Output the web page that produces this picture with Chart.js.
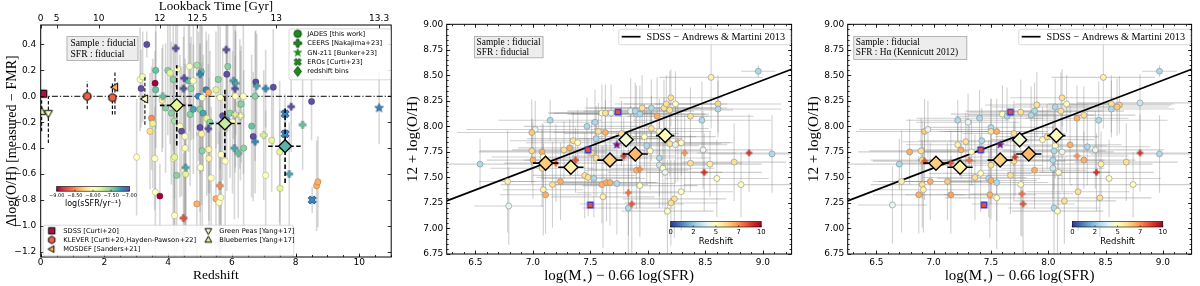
<!DOCTYPE html>
<html><head><meta charset="utf-8">
<script src="https://cdn.jsdelivr.net/npm/chart.js@4.4.1/dist/chart.umd.min.js"></script>
<style>
html,body{margin:0;padding:0;background:#fff;width:1200px;height:286px;overflow:hidden}
canvas{position:absolute;top:0}
</style></head><body>
<canvas id="c1" width="400" height="286" style="left:0;width:400px;height:286px"></canvas>
<canvas id="c2" width="400" height="286" style="left:400px;width:400px;height:286px"></canvas>
<canvas id="c3" width="400" height="286" style="left:800px;width:400px;height:286px"></canvas>
<script>
// ================= PANEL 1 DATA: Δlog(O/H) vs redshift =================
const jadesZ   = [3.33,3.12,3.20,3.15,3.61,3.59,3.61,3.48,3.52,3.43, 3.01,3.58,3.60,3.74,3.99,4.06,4.16,4.29,4.67,4.90, 5.04,4.64,4.79,4.72,5.19,4.95,5.07,5.27,3.81,3.92, 4.10,4.20,4.37,4.42,4.53,4.69,4.79,5.00,5.10,5.21, 5.31,5.00,5.05,5.50,5.57,5.63,5.71,5.84,5.94,6.02, 6.11,6.36,6.25,5.87,5.84,6.29,6.62,6.67,6.75,7.30, 7.25,8.50,6.73,4.16,4.20,4.20,4.50,4.55,4.90,5.01, 5.07,5.28,5.28,5.35,5.50,5.60,5.65,5.66,5.79,6.37, 7.06,7.51,7.50,8.66,8.70,4.27,4.53];
const jadesDOH = [0.40,0.13,0.15,0.06,0.20,0.10,0.05,-0.17,-0.21,-0.27, -0.47,-0.48,-0.74,-0.77,0.20,0.18,0.13,0.21,0.23,0.24, 0.19,0.12,0.12,0.06,0.05,0.00,-0.01,0.03,-0.03,-0.09, -0.13,-0.19,-0.23,-0.27,-0.31,-0.14,-0.10,-0.10,-0.13,-0.17, -0.20,-0.24,-0.29,0.05,0.13,-0.01,-0.15,-0.18,-0.13,-0.20, 0.00,0.00,-0.06,0.23,0.17,-0.06,-0.23,-0.31,0.11,0.07, -0.34,-0.04,0.00,-0.48,-0.47,-0.92,-0.57,-0.60,-0.83,-0.55, -0.42,-0.41,-0.48,-0.63,-0.79,-0.82,-0.78,-0.45,-0.50,-0.40, -0.61,-0.71,-0.43,-0.69,-0.66,-0.61,-0.40];
const jadesErr = [0.10,0.40,0.35,0.30,0.45,0.25,0.45,0.40,0.50,0.45, 0.45,0.40,0.55,0.25,0.50,0.55,0.55,0.45,0.50,0.55, 0.45,0.55,0.45,0.40,0.45,0.50,0.55,0.45,0.40,0.50, 0.55,0.60,0.55,0.50,0.60,0.55,0.50,0.50,0.45,0.60, 0.55,0.65,0.55,0.45,0.50,0.55,0.50,0.55,0.50,0.55, 0.55,0.60,0.50,0.50,0.45,0.45,0.55,0.50,0.40,0.45, 0.40,0.30,0.50,0.65,0.60,0.60,0.65,0.60,0.55,0.60, 0.60,0.55,0.55,0.55,0.60,0.55,0.55,0.60,0.55,0.60, 0.50,0.60,0.55,0.35,0.35,0.60,0.65];
const jadesSSFR= [-7.0,-8.0,-7.9,-7.0,-7.4,-9.0,-7.4,-8.5,-7.8,-8.2, -8.0,-8.0,-8.0,-9.0,-7.5,-7.8,-7.5,-8.0,-8.0,-7.6, -7.4,-7.4,-8.0,-7.5,-7.2,-7.2,-8.0,-8.4,-8.1,-7.5, -7.5,-7.6,-8.0,-7.0,-8.0,-7.5,-7.3,-7.5,-7.3,-7.8, -7.5,-7.0,-8.1,-7.8,-7.5,-8.0,-7.0,-7.3,-7.5,-8.0, -8.0,-8.0,-7.8,-7.5,-7.0,-7.5,-7.4,-7.0,-7.0,-7.0, -7.8,-7.0,-7.5,-8.0,-7.8,-8.0,-8.0,-7.8,-8.4,-8.0, -7.5,-8.1,-8.1,-8.0,-8.4,-8.0,-8.0,-8.0,-8.0,-7.5, -8.0,-7.8,-7.8,-8.4,-8.4,-7.5,-8.0];

const ceersZ   = [4.24,4.50,4.48,5.00,3.83,5.26,5.82,6.10,6.05,6.12,6.27,6.78,7.06,7.00,7.86,8.22,4.48,4.55,5.62,6.08,6.20,7.80,6.73,6.10];
const ceersDOH = [0.37,0.14,0.06,0.17,0.00,-0.25,0.36,0.06,0.12,0.10,-0.15,0.08,0.06,-0.30,-0.08,-0.22,-0.94,-0.55,-0.69,-0.40,-0.44,-0.60,-0.35,-0.14];
const ceersErr = [0.30,0.40,0.40,0.40,0.40,0.50,0.40,0.45,0.45,0.40,0.50,0.40,0.30,0.50,0.35,0.35,0.50,0.50,0.50,0.55,0.50,0.40,0.40,0.45];
const ceersSSFR= [-7.0,-7.0,-7.0,-7.2,-7.4,-7.0,-7.0,-7.0,-7.3,-7.3,-8.0,-7.3,-7.2,-7.8,-7.0,-7.4,-8.7,-7.3,-8.5,-7.3,-7.4,-7.3,-7.2,-7.8];

const gnz11Z = [10.62], gnz11DOH = [-0.09], gnz11Err = [0.28], gnz11SSFR = [-7.2];
const erosZ = [7.67,7.67,8.52], erosDOH = [-0.135,-0.29,-0.80], erosErr = [0.15,0.15,0.10], erosSSFR = [-7.2,-7.2,-7.2];

const binZ = [4.27,5.78,7.67], binDOH = [-0.07,-0.21,-0.385];
const binZLo = [3.74,5.29,7.14], binZHi = [4.79,6.28,8.21];
const binDLo = [-0.38,-0.47,-0.67], binDHi = [0.24,0.07,-0.085];
const binSSFR = [-7.8,-7.7,-7.35];

const sdssZ = [0.08], sdssDOH = [0.02], sdssELo = [0.03], sdssEHi = [0.03], sdssSSFR = [-8.95];
const kleverZ = [1.46,2.25], kleverDOH = [0.00,-0.01], kleverELo = [0.10,0.13], kleverEHi = [0.115,0.11], kleverSSFR = [-8.65,-8.65];
const mosdefZ = [2.33,3.27], mosdefDOH = [0.07,-0.02], mosdefELo = [0.21,0.20], mosdefEHi = [0.12,0.17], mosdefSSFR = [-8.4,-8.0];
const gpZ = [0.24], gpDOH = [-0.13], gpELo = [0.23], gpEHi = [0.13], gpSSFR = [-8.0];
const bbZ = [0.03], bbDOH = [-0.12], bbELo = [0.15], bbEHi = [0.10], bbSSFR = [-7.8];

const zeroLineZ = [0, 11], zeroLineDOH = [0, 0];

const L_xTicks = [0,2,4,6,8,10];
const L_yTicks = [-1.2,-1.0,-0.8,-0.6,-0.4,-0.2,0.0,0.2,0.4];
const LB_LABELS = ['0','5','10','12','12.5','13','13.3'];
const LB_Z = [0,0.5,1.82,3.74,4.92,7.39,10.62];
const cbSSFRTicks = [-9,-8.5,-8,-7.5,-7];
const cbSSFRLabels = ['\u22129.00','\u22128.50','\u22128.00','\u22127.50','\u22127.00'];

// ================= PANEL 2 DATA: FMR, fiducial SFR =================
const mJadesX = [7.15,7.02,6.99,6.78,6.79,6.54,6.99,7.00,7.08,7.09, 7.08,7.09,7.11,7.17,7.24,7.27,7.32,7.35,7.39,7.47, 7.54,7.57,7.63,7.55,7.51,7.55,7.45,7.48,7.53,7.60, 7.64,7.67,7.61,7.73,7.68,7.60,7.63,7.90,7.85,7.89, 7.95,7.93,8.03,8.08,8.14,8.16,8.20,8.24,8.19,8.37, 8.47,8.55,8.61,8.61,8.96,8.48,8.54,8.75,8.81,9.08, 8.60,8.37,8.26,8.23,8.20,8.17,8.29,7.99,8.02,8.10, 8.10,8.13,8.15,8.19,8.24,8.29,7.93,7.90,7.83,7.97, 7.77,7.85,8.03,8.10,8.14];
const mJadesY = [8.06,7.97,7.94,7.46,7.22,7.63,7.76,7.67,7.75,7.70, 7.59,7.38,7.33,7.43,7.46,7.77,7.79,7.86,7.84,8.00, 8.04,7.95,7.94,7.88,7.74,7.69,7.52,7.50,7.49,7.43, 7.45,7.45,7.31,7.44,8.13,8.13,8.13,8.12,8.15,8.15, 8.18,8.12,8.18,8.10,8.18,8.22,8.28,8.22,8.16,8.10, 8.06,8.48,8.22,8.17,8.54,7.77,7.63,7.65,7.43,7.73, 7.49,7.64,7.84,7.29,7.25,7.17,7.36,7.81,7.76,7.69, 7.62,7.59,7.55,7.83,7.82,7.84,7.42,7.57,7.20,7.90, 7.93,7.88,7.98,7.95,7.90];
const mJadesXe = [0.45,0.60,0.65,0.25,0.30,0.45,0.45,0.40,0.55,0.45, 0.45,0.35,0.40,0.45,0.50,0.45,0.45,0.55,0.45,0.55, 0.45,0.55,0.45,0.60,0.50,0.45,0.45,0.45,0.45,0.40, 0.45,0.40,0.45,0.50,0.55,0.45,0.45,0.60,0.55,0.45, 0.50,0.60,0.55,0.45,0.55,0.45,0.45,0.45,0.55,0.55, 0.60,0.45,0.55,0.55,0.15,0.60,0.45,0.45,0.50,0.55, 0.45,0.45,0.45,0.45,0.40,0.40,0.45,0.45,0.50,0.45, 0.45,0.45,0.50,0.45,0.45,0.45,0.50,0.45,0.40,0.45, 0.50,0.45,0.50,0.45,0.45];
const mJadesYe = [0.20,0.28,0.32,0.50,0.38,0.25,0.32,0.38,0.28,0.32, 0.38,0.45,0.38,0.42,0.38,0.28,0.28,0.28,0.32,0.28, 0.32,0.28,0.32,0.32,0.32,0.38,0.42,0.38,0.38,0.38, 0.38,0.42,0.50,0.50,0.28,0.28,0.28,0.28,0.32,0.28, 0.32,0.28,0.28,0.38,0.28,0.28,0.28,0.32,0.38,0.28, 0.38,0.50,0.28,0.28,0.06,0.38,0.32,0.38,0.32,0.38, 0.38,0.28,0.38,0.38,0.42,0.50,0.38,0.38,0.38,0.38, 0.42,0.38,0.42,0.32,0.38,0.32,0.50,0.38,0.60,0.32, 0.32,0.32,0.32,0.32,0.38];
const mJadesZ = [3.0,4.2,6.5,5.5,4.2,3.0,6.2,7.0,7.0,5.0, 6.0,5.5,7.0,6.0,7.0,6.0,7.0,6.0,5.0,3.0, 3.0,6.0,7.0,3.0,6.0,6.0,6.0,6.0,3.0,7.0, 7.0,7.0,5.5,3.0,4.2,5.0,6.0,3.0,4.2,3.0, 6.0,3.0,3.0,7.0,6.0,6.0,6.0,5.0,6.0,6.0, 3.0,5.5,6.2,3.0,3.0,4.2,5.5,6.0,5.0,3.0, 5.0,6.0,7.0,6.0,6.0,5.0,5.0,3.0,5.0,3.0, 3.5,5.0,4.2,6.0,4.2,5.0,5.0,7.0,3.0,5.0, 6.0,5.0,6.0,5.0,7.0];
const mCeersX = [7.20,7.37,8.49,8.88,8.32,7.79,7.83,7.86,7.93];
const mCeersY = [7.64,7.67,7.55,7.74,7.74,7.71,7.35,7.24,7.58];
const mCeersXe = [0.45,0.45,0.50,0.45,0.45,0.45,0.45,0.45,0.45];
const mCeersYe = [0.38,0.32,0.38,0.38,0.38,0.38,0.42,0.50,0.38];
const mCeersZ = [8.5,8.5,9.0,9.0,7.5,9.0,8.0,8.5,7.5];
const mErosX = [7.48,7.50,7.74], mErosY = [7.77,7.23,8.14], mErosZ = [8.5,8.5,8.5];
const mGnX = [7.73], mGnY = [7.82], mGnZ = [10.6];
const mBinX = [7.11,7.33,7.67,7.89,7.81,8.15], mBinY = [7.64,7.60,7.67,7.73,7.87,7.91];
const mBinXe = [0.11,0.11,0.11,0.11,0.06,0.08], mBinYe = [0.04,0.04,0.05,0.07,0.04,0.05];
const mBinZ = [6.4,5.5,6.3,6.8,4.6,5.1];

// ================= PANEL 3 DATA: FMR, Hα SFR =================
const rJadesX = [6.64,6.70,6.72,6.79,6.87,6.90,6.91,6.90,6.89,6.92, 6.95,6.97,7.12,7.15,7.21,7.30,7.40,7.50,7.50,7.55, 7.21,7.24,7.28,7.33,7.42,7.36,7.41,7.48,7.50,7.55, 7.49,7.55,7.50,7.67,7.70,8.97,8.48,8.80,8.62,8.60, 8.55,8.55,8.44,8.25,8.31,8.12,8.16,8.11,8.06,7.90, 7.88,7.85,7.76,8.34,8.41,8.97,8.68,8.46,8.53,8.74, 8.31,8.19,8.26,8.45,8.14,8.05,8.08,8.04,8.04,8.09, 8.06,8.05,7.88,7.76,7.95,7.99,8.12,7.70,7.60,7.64];
const rJadesY = [7.23,7.63,7.46,7.75,7.33,7.43,7.38,7.67,7.76,7.95, 7.97,7.46,7.46,7.33,8.06,8.04,8.08,7.99,7.95,7.95, 7.82,7.77,7.85,7.75,7.86,7.50,7.54,7.49,7.47,7.45, 7.33,7.30,7.62,7.52,7.66,8.54,8.48,8.23,8.21,8.19, 8.22,8.17,8.06,8.08,8.11,8.28,8.22,8.15,8.19,8.21, 8.15,8.11,8.14,7.80,7.77,7.73,7.65,7.63,7.49,7.43, 7.67,7.82,7.36,7.30,7.27,7.20,7.17,7.67,7.59,7.55, 7.81,7.76,7.57,7.43,7.87,7.90,7.75,7.93,8.12,8.10];
const rJadesXe = [0.30,0.45,0.25,0.45,0.40,0.45,0.40,0.45,0.45,0.60, 0.60,0.45,0.45,0.40,0.45,0.45,0.55,0.55,0.45,0.45, 0.45,0.45,0.55,0.45,0.55,0.45,0.45,0.45,0.40,0.45, 0.40,0.45,0.45,0.45,0.45,0.15,0.45,0.55,0.45,0.45, 0.55,0.55,0.60,0.45,0.45,0.45,0.45,0.55,0.55,0.45, 0.60,0.55,0.45,0.55,0.60,0.60,0.45,0.45,0.45,0.55, 0.45,0.45,0.45,0.45,0.45,0.40,0.40,0.45,0.45,0.45, 0.45,0.45,0.45,0.45,0.45,0.45,0.45,0.45,0.45,0.45];
const rJadesYe = [0.38,0.25,0.50,0.32,0.38,0.42,0.42,0.38,0.32,0.32, 0.28,0.38,0.38,0.38,0.20,0.28,0.28,0.28,0.32,0.32, 0.28,0.28,0.28,0.32,0.32,0.42,0.38,0.38,0.38,0.38, 0.42,0.50,0.38,0.38,0.38,0.06,0.50,0.28,0.28,0.28, 0.28,0.28,0.38,0.32,0.28,0.28,0.28,0.38,0.28,0.32, 0.28,0.28,0.32,0.38,0.38,0.38,0.38,0.32,0.38,0.32, 0.28,0.38,0.38,0.38,0.42,0.50,0.50,0.38,0.42,0.38, 0.32,0.38,0.38,0.50,0.32,0.32,0.38,0.32,0.28,0.28];
const rJadesZ = [4.2,3.0,5.5,7.0,7.0,6.0,5.5,6.0,6.0,6.5, 4.2,7.0,6.5,7.2,3.0,4.0,3.0,3.0,6.0,7.0, 5.5,7.0,6.0,5.0,3.0,6.0,5.0,3.0,7.0,3.0, 7.0,5.0,6.0,6.0,6.0,3.0,5.5,3.5,6.5,6.5, 6.0,3.0,3.0,7.0,6.0,6.0,5.0,6.0,3.0,6.0, 3.0,3.0,6.0,3.0,4.2,3.0,6.0,5.5,5.0,5.0, 7.0,7.0,6.0,6.0,6.0,3.0,5.0,3.0,3.5,5.0, 5.0,3.0,7.0,5.0,5.0,6.0,4.2,6.0,5.0,3.0];
const rCeersX = [6.92,7.15,7.31,7.71,8.42,8.80,8.25,7.77,7.78];
const rCeersY = [7.66,7.64,7.67,7.70,7.55,7.74,7.71,7.34,7.24];
const rCeersXe = [0.45,0.45,0.45,0.45,0.50,0.45,0.45,0.45,0.45];
const rCeersYe = [0.38,0.32,0.38,0.38,0.38,0.38,0.38,0.42,0.50];
const rCeersZ = [8.5,8.5,8.0,9.0,9.0,9.0,7.5,8.0,8.5];
const rErosX = [7.41,7.44,7.67], rErosY = [7.77,7.23,8.14], rErosZ = [8.5,8.5,8.5];
const rGnX = [7.58], rGnY = [7.82], rGnZ = [10.6];
const rBinX = [7.02,7.23,7.58,7.83,7.75,8.07], rBinY = [7.64,7.60,7.67,7.73,7.87,7.91];
const rBinXe = [0.11,0.11,0.11,0.11,0.06,0.08], rBinYe = [0.04,0.04,0.05,0.07,0.04,0.05];
const rBinZ = [6.4,5.5,6.3,6.8,4.6,5.1];

// shared
const amX = [6.25, 9.25], amY = [7.27, 8.56];   // SDSS – Andrews & Martini 2013 relation
const M_xTicks = [6.5,7.0,7.5,8.0,8.5,9.0];
const M_yTicks = [6.75,7.00,7.25,7.50,7.75,8.00,8.25,8.50,8.75,9.00];
const cbZTicks = [0,2.5,5,7.5,10];
const cbZLabels = ['0','2','5','7','10'];

// ================= helpers =================
const SPECTRAL = ['#9e0142','#d53e4f','#f46d43','#fdae61','#fee08b','#ffffbf','#e6f598','#abdda4','#66c2a5','#3288bd','#5e4fa2'];
const RDYLBU_R = ['#313695','#4575b4','#74add1','#abd9e9','#e0f3f8','#ffffbf','#fee090','#fdae61','#f46d43','#d73027','#a50026'];
function h2r(h){return [parseInt(h.slice(1,3),16),parseInt(h.slice(3,5),16),parseInt(h.slice(5,7),16)];}
function cmap(stops,t){t=Math.max(0,Math.min(1,t));const n=stops.length-1;const f=t*n;const i=Math.min(Math.floor(f),n-1);const u=f-i;const a=h2r(stops[i]),b=h2r(stops[i+1]);return 'rgb('+Math.round(a[0]+(b[0]-a[0])*u)+','+Math.round(a[1]+(b[1]-a[1])*u)+','+Math.round(a[2]+(b[2]-a[2])*u)+')';}
const sCol = c => cmap(SPECTRAL,(c+9)/2);
const zCol = z => cmap(RDYLBU_R,z/10);
const MINUS = '\u2212';
const fmt = (v,d) => v.toFixed(d).replace('-',MINUS);

const CACHE = {};
function mk(shape, fill, stroke, size, lw){
  const key=[shape,fill,stroke,size,lw].join('|');
  if(CACHE[key]) return CACHE[key];
  const S=Math.ceil(size+lw+2); const c=document.createElement('canvas'); c.width=S; c.height=S;
  const g=c.getContext('2d'); g.translate(S/2,S/2); const r=size/2; let P=[];
  if(shape==='plus'||shape==='x'){const t=r*0.36; P=[[-t,-r],[t,-r],[t,-t],[r,-t],[r,t],[t,t],[t,r],[-t,r],[-t,t],[-r,t],[-r,-t],[-t,-t]]; if(shape==='x') P=P.map(([x,y])=>[(x-y)*Math.SQRT1_2,(x+y)*Math.SQRT1_2]);}
  else if(shape==='star'){for(let k=0;k<10;k++){const a=-Math.PI/2+k*Math.PI/5;const rr=(k%2)?r*0.42:r;P.push([rr*Math.cos(a),rr*Math.sin(a)]);}}
  else if(shape==='hex'){for(let k=0;k<6;k++){const a=-Math.PI/2+k*Math.PI/3;P.push([r*Math.cos(a),r*Math.sin(a)]);}}
  else if(shape==='triU'){P=[[0,-r],[r*0.9,r*0.6],[-r*0.9,r*0.6]];}
  else if(shape==='triD'){P=[[0,r],[r*0.9,-r*0.6],[-r*0.9,-r*0.6]];}
  else if(shape==='triL'){P=[[-r,0],[r*0.6,-r*0.9],[r*0.6,r*0.9]];}
  else if(shape==='sq'){const s=r*0.85;P=[[-s,-s],[s,-s],[s,s],[-s,s]];}
  else if(shape==='dia'){P=[[0,-r],[r*0.75,0],[0,r],[-r*0.75,0]];}
  g.beginPath();
  if(shape==='circ'){g.arc(0,0,r,0,2*Math.PI);} else {P.forEach((p,i)=>i?g.lineTo(p[0],p[1]):g.moveTo(p[0],p[1]));g.closePath();}
  g.fillStyle=fill; g.fill(); if(lw>0){g.lineWidth=lw; g.strokeStyle=stroke; g.lineJoin='miter'; g.stroke();}
  CACHE[key]=c; return c;
}
function pts(X,Y,XE,YE){return X.map((x,i)=>{const o={x:x,y:Y[i]};if(YE){o.yLo=Y[i]-YE[i];o.yHi=Y[i]+YE[i];}if(XE){o.xLo=x-XE[i];o.xHi=x+XE[i];}return o;});}
function ptsAsym(X,Y,ELo,EHi){return X.map((x,i)=>({x:x,y:Y[i],yLo:Y[i]-ELo[i],yHi:Y[i]+EHi[i]}));}

function drawEB(chart, ds){
  const ctx=chart.ctx, xs=chart.scales.x, ys=chart.scales.y, e=ds.eb;
  ctx.strokeStyle=e.color; ctx.lineWidth=e.width; ctx.setLineDash(e.dash||[]); ctx.lineCap='butt';
  ds.data.forEach(p=>{
    const px=xs.getPixelForValue(p.x), py=ys.getPixelForValue(p.y);
    if(p.yLo!==undefined){ctx.beginPath();ctx.moveTo(px,ys.getPixelForValue(p.yLo));ctx.lineTo(px,ys.getPixelForValue(p.yHi));ctx.stroke();}
    if(p.xLo!==undefined){ctx.beginPath();ctx.moveTo(xs.getPixelForValue(p.xLo),py);ctx.lineTo(xs.getPixelForValue(p.xHi),py);ctx.stroke();}
  });
  ctx.setLineDash([]);
}
function clipArea(chart){const a=chart.chartArea,ctx=chart.ctx;ctx.beginPath();ctx.rect(a.left,a.top,a.right-a.left,a.bottom-a.top);ctx.clip();}
function rangeTicks(a,b,s){const out=[];for(let v=a;v<=b+1e-9;v+=s)out.push(+v.toFixed(4));return out;}

function frameTicks(chart, spec){
  const ctx=chart.ctx,a=chart.chartArea,xs=chart.scales.x,ys=chart.scales.y;
  ctx.save(); ctx.strokeStyle='#000'; ctx.lineWidth=0.8;
  const vx=(vals,len,sides)=>vals.forEach(v=>{if(v<xs.min||v>xs.max)return;const p=Math.round(xs.getPixelForValue(v))+0.5;ctx.beginPath();if(sides.b){ctx.moveTo(p,a.bottom);ctx.lineTo(p,a.bottom-len);}if(sides.t){ctx.moveTo(p,a.top);ctx.lineTo(p,a.top+len);}ctx.stroke();});
  const vy=(vals,len)=>vals.forEach(v=>{if(v<ys.min||v>ys.max)return;const p=Math.round(ys.getPixelForValue(v))+0.5;ctx.beginPath();ctx.moveTo(a.left,p);ctx.lineTo(a.left+len,p);ctx.moveTo(a.right,p);ctx.lineTo(a.right-len,p);ctx.stroke();});
  vx(spec.xMajor,3.5,{b:1,t:spec.topSame}); vx(spec.xMinor,2,{b:1,t:spec.topSame});
  if(spec.topMajor) vx(spec.topMajor,3.5,{t:1});
  vy(spec.yMajor,3.5); vy(spec.yMinor,2);
  ctx.lineWidth=1; ctx.strokeRect(a.left,a.top,a.right-a.left,a.bottom-a.top);
  ctx.restore();
}
function textBox(ctx,x,y,w,h,lines,size,tx,baselines){
  ctx.save(); ctx.fillStyle='rgba(236,236,236,0.95)'; ctx.strokeStyle='#a8a8a8'; ctx.lineWidth=0.8;
  ctx.fillRect(x,y,w,h); ctx.strokeRect(x+0.5,y+0.5,w-1,h-1);
  ctx.fillStyle='#000'; ctx.font=size+'px "Liberation Serif"'; ctx.textBaseline='alphabetic';
  lines.forEach((t,i)=>ctx.fillText(t,tx,baselines[i])); ctx.restore();
}
function roundBox(ctx,x,y,w,h){ctx.save();ctx.fillStyle='rgba(255,255,255,0.85)';ctx.strokeStyle='#cfcfcf';ctx.lineWidth=0.8;ctx.beginPath();ctx.roundRect(x+0.5,y+0.5,w,h,2);ctx.fill();ctx.stroke();ctx.restore();}
function colorbar(ctx,x0,x1,y0,y1,stops,ticks,labels,vmin,vmax,tickFont,label,labelFont,labelY,tickY){
  const g=ctx.createLinearGradient(x0,0,x1,0); stops.forEach((c,i)=>g.addColorStop(i/(stops.length-1),c));
  ctx.save(); ctx.fillStyle=g; ctx.fillRect(x0,y0,x1-x0,y1-y0); ctx.strokeStyle='#000'; ctx.lineWidth=0.6; ctx.strokeRect(x0,y0,x1-x0,y1-y0);
  ctx.fillStyle='#000'; ctx.font=tickFont; ctx.textAlign='center'; ctx.textBaseline='top';
  ticks.forEach((t,i)=>{const px=x0+(t-vmin)/(vmax-vmin)*(x1-x0);ctx.beginPath();ctx.moveTo(px,y1);ctx.lineTo(px,y1-1.5);ctx.stroke();ctx.fillText(labels[i],px,tickY);});
  ctx.font=labelFont; ctx.fillText(label,(x0+x1)/2,labelY); ctx.restore();
}

const commonOpts = {responsive:false, animation:false, events:[], plugins:{legend:{display:false},tooltip:{enabled:false}}};
const tickFont = {family:'DejaVu Sans', size:9, lineHeight:1.2};
function xScale(min,max,ticks,dec,height,pad,titleOpt){return {type:'linear',position:'bottom',min:min,max:max,grid:{display:false,drawTicks:false},border:{display:false},
  afterBuildTicks:s=>{s.ticks=ticks.map(v=>({value:v}));},
  ticks:{padding:pad,font:tickFont,color:'#000',maxRotation:0,autoSkip:false,callback:v=>fmt(v,dec)},
  title:titleOpt||{display:false},
  afterFit:s=>{s.height=height;s.paddingLeft=0;s.paddingRight=0;}};}
function yScale(min,max,ticks,dec,width,pad,titleOpt){return {type:'linear',position:'left',min:min,max:max,grid:{display:false,drawTicks:false},border:{display:false},
  afterBuildTicks:s=>{s.ticks=ticks.map(v=>({value:v}));},
  ticks:{padding:pad,font:tickFont,color:'#000',autoSkip:false,callback:v=>fmt(v,dec)},
  title:titleOpt,
  afterFit:s=>{s.width=width;s.paddingTop=0;s.paddingBottom=0;}};}

// ================= PANEL 1 =================
(function(){
  const greyEB = {layer:'under',color:'rgba(150,150,150,0.38)',width:1.6};
  const blackDash = {layer:'own',color:'#000',width:1.1,dash:[3.5,2]};
  const binDash = {layer:'own',color:'#000',width:1.6,dash:[4.5,2.5]};
  const datasets = [
    {label:'bins',data:binZ.map((z,i)=>({x:z,y:binDOH[i],xLo:binZLo[i],xHi:binZHi[i],yLo:binDLo[i],yHi:binDHi[i]})),eb:binDash,
      pointStyle:'rectRot',pointRadius:6.5,pointBackgroundColor:binSSFR.map(sCol),pointBorderColor:'#000',pointBorderWidth:1.3,showLine:false,order:0},
    {label:'sdss',data:ptsAsym(sdssZ,sdssDOH,sdssELo,sdssEHi),eb:blackDash,pointStyle:sdssSSFR.map(c=>mk('sq',sCol(c),'#000',8.5,1)),showLine:false,order:1},
    {label:'klever',data:ptsAsym(kleverZ,kleverDOH,kleverELo,kleverEHi),eb:blackDash,pointStyle:kleverSSFR.map(c=>mk('hex',sCol(c),'#000',8.5,1)),showLine:false,order:1},
    {label:'mosdef',data:ptsAsym(mosdefZ,mosdefDOH,mosdefELo,mosdefEHi),eb:blackDash,pointStyle:mosdefSSFR.map(c=>mk('triL',sCol(c),'#000',9,1)),showLine:false,order:1},
    {label:'gp',data:ptsAsym(gpZ,gpDOH,gpELo,gpEHi),eb:blackDash,pointStyle:gpSSFR.map(c=>mk('triD',sCol(c),'#000',9,1)),showLine:false,order:1},
    {label:'bb',data:ptsAsym(bbZ,bbDOH,bbELo,bbEHi),eb:blackDash,pointStyle:bbSSFR.map(c=>mk('triU',sCol(c),'#000',9,1)),showLine:false,order:1},
    {label:'gnz11',data:pts(gnz11Z,gnz11DOH,null,gnz11Err),eb:greyEB,pointStyle:gnz11SSFR.map(c=>mk('star',sCol(c),'#1a3a80',9.5,0.6)),showLine:false,order:2},
    {label:'eros',data:pts(erosZ,erosDOH,null,erosErr),eb:greyEB,pointStyle:erosSSFR.map(c=>mk('x',sCol(c),'#1a3a80',8.5,0.8)),showLine:false,order:2},
    {label:'ceers',data:pts(ceersZ,ceersDOH,null,ceersErr),eb:greyEB,pointStyle:ceersSSFR.map(c=>mk('plus',sCol(c),'rgba(0,0,0,0.45)',7,0.5)),showLine:false,order:3},
    {label:'jades',data:pts(jadesZ,jadesDOH,null,jadesErr),eb:greyEB,pointStyle:'circle',pointRadius:3.2,pointBackgroundColor:jadesSSFR.map(sCol),pointBorderColor:'rgba(0,0,0,0.35)',pointBorderWidth:0.5,showLine:false,order:4},
    {type:'line',label:'zero',data:zeroLineZ.map((z,i)=>({x:z,y:zeroLineDOH[i]})),borderColor:'#000',borderWidth:1,borderDash:[6,2,1.2,2],pointRadius:0,fill:false,order:10}
  ];
  const plugin = {id:'p1',
    beforeDatasetsDraw(chart){const ctx=chart.ctx;ctx.save();clipArea(chart);chart.data.datasets.forEach(ds=>{if(ds.eb&&ds.eb.layer==='under')drawEB(chart,ds);});ctx.restore();},
    beforeDatasetDraw(chart,args){const ds=chart.data.datasets[args.index];if(ds.eb&&ds.eb.layer==='own'){const ctx=chart.ctx;ctx.save();clipArea(chart);drawEB(chart,ds);ctx.restore();}},
    afterDraw(chart){
      const ctx=chart.ctx;
      frameTicks(chart,{xMajor:L_xTicks,xMinor:rangeTicks(0,11,0.5),topSame:false,topMajor:LB_Z,yMajor:L_yTicks,yMinor:[]});
      textBox(ctx,66.5,36,72,25,['Sample : fiducial','SFR : fiducial'],9.6,70.5,[46.3,56.5]);
      roundBox(ctx,288.5,28.3,101.5,51);
      const lg=[['circ','JADES [this work]'],['plus','CEERS [Nakajima+23]'],['star','GN-z11 [Bunker+23]'],['x','EROs [Curti+23]'],['dia','redshift bins']];
      ctx.save(); ctx.font='6.7px "DejaVu Sans"'; ctx.textBaseline='middle'; ctx.fillStyle='#000';
      lg.forEach((e,i)=>{const y=33.8+i*9.4;const sz=e[0]==='dia'?10:(e[0]==='star'?9:7.5);const m=mk(e[0],'#199019','#0a3a0a',sz,e[0]==='star'?0.3:0.9);ctx.drawImage(m,297.7-m.width/2,y-m.height/2);ctx.fillText(e[1],307.3,y+0.3);});
      ctx.restore();
      roundBox(ctx,42.7,224.7,250.6,30.6);
      const lg2=[['sq',sCol(sdssSSFR[0]),'SDSS [Curti+20]',51.7,63.3,230.8],['hex',sCol(kleverSSFR[0]),'KLEVER [Curti+20,Hayden-Pawson+22]',51.7,63.3,239.9],['triL',sCol(mosdefSSFR[0]),'MOSDEF [Sanders+21]',51.7,63.3,249.1],
                 ['triD',sCol(gpSSFR[0]),'Green Peas [Yang+17]',208.3,219.3,230.8],['triU',sCol(bbSSFR[0]),'Blueberries [Yang+17]',208.3,219.3,239.9]];
      ctx.save(); ctx.font='6.7px "DejaVu Sans"'; ctx.textBaseline='middle'; ctx.fillStyle='#000';
      lg2.forEach(e=>{const m=mk(e[0],e[1],'#000',7.5,1);ctx.drawImage(m,e[3]-m.width/2,e[5]-m.height/2);ctx.fillText(e[2],e[4],e[5]+0.3);});
      ctx.restore();
      colorbar(ctx,56.7,129.3,186.5,191.2,SPECTRAL,cbSSFRTicks,cbSSFRLabels,-9,-7,'5px "DejaVu Sans"','log(sSFR/yr\u207B\u00B9)','8px "DejaVu Sans"',199.5,193);
    }};
  const scales = {
    x: xScale(0,11,L_xTicks,0,29,0,{display:true,text:'Redshift',color:'#000',font:{family:'Liberation Serif',size:13.5,lineHeight:1.2},padding:{top:0,bottom:2}}),
    x2: {type:'linear',position:'top',min:0,max:11,grid:{display:false,drawTicks:false},border:{display:false},
      afterBuildTicks:s=>{s.ticks=LB_Z.map(v=>({value:v}));},
      ticks:{padding:0.6,font:tickFont,color:'#000',maxRotation:0,autoSkip:false,callback:(v,i)=>LB_LABELS[i]},
      title:{display:true,text:'Lookback Time [Gyr]',color:'#000',font:{family:'Liberation Serif',size:13,lineHeight:1.0},padding:{top:0.5,bottom:0}},
      afterFit:s=>{s.height=25;s.paddingLeft=0;s.paddingRight=0;}},
    y: yScale(-1.24,0.55,L_yTicks,1,40.7,4.5,{display:true,text:'\u0394log(O/H) [measured \u2212 FMR]',color:'#000',font:{family:'Liberation Serif',size:14,lineHeight:1.2},padding:{top:3.6,bottom:0}})
  };
  new Chart(document.getElementById('c1'),{type:'scatter',data:{datasets:datasets},
    options:Object.assign({},commonOpts,{layout:{padding:{left:0,right:8.8,top:0,bottom:0}},scales:scales}),plugins:[plugin]});
})();

// ================= PANELS 2 & 3 =================
function fmrPanel(id, D, boxLines, boxW){
  const greyEB = {layer:'under',color:'rgba(125,125,125,0.36)',width:1.1};
  const binEB = {layer:'own',color:'#000',width:1.6};
  const datasets = [
    {label:'bins',data:pts(D.binX,D.binY,D.binXe,D.binYe),eb:binEB,pointStyle:'rectRot',pointRadius:7,pointBackgroundColor:D.binZ.map(zCol),pointBorderColor:'#000',pointBorderWidth:1.4,showLine:false,order:0},
    {label:'eros',data:pts(D.erosX,D.erosY),pointStyle:D.erosZ.map(z=>mk('sq',zCol(z),'#3a3acf',6.5,1.3)),showLine:false,order:1},
    {label:'gn',data:pts(D.gnX,D.gnY),pointStyle:D.gnZ.map(z=>mk('star',zCol(z),'#3a3acf',8,0.8)),showLine:false,order:1},
    {label:'ceers',data:pts(D.ceersX,D.ceersY,D.ceersXe,D.ceersYe),eb:greyEB,pointStyle:D.ceersZ.map(z=>mk('plus',zCol(z),'rgba(0,0,0,0.3)',6,0.4)),showLine:false,order:2},
    {label:'jades',data:pts(D.jX,D.jY,D.jXe,D.jYe),eb:greyEB,pointStyle:'circle',pointRadius:3,pointBackgroundColor:D.jZ.map(zCol),pointBorderColor:'#8c8c8c',pointBorderWidth:0.6,showLine:false,order:3},
    {type:'line',label:'AM13',data:amX.map((x,i)=>({x:x,y:amY[i]})),borderColor:'#000',borderWidth:1.7,pointRadius:0,fill:false,order:4}
  ];
  const plugin = {id:'p'+id,
    beforeDatasetsDraw(chart){const ctx=chart.ctx;ctx.save();clipArea(chart);chart.data.datasets.forEach(ds=>{if(ds.eb&&ds.eb.layer==='under')drawEB(chart,ds);});ctx.restore();},
    beforeDatasetDraw(chart,args){const ds=chart.data.datasets[args.index];if(ds.eb&&ds.eb.layer==='own'){const ctx=chart.ctx;ctx.save();clipArea(chart);drawEB(chart,ds);ctx.restore();}},
    afterDraw(chart){
      const ctx=chart.ctx,a=chart.chartArea;
      frameTicks(chart,{xMajor:M_xTicks,xMinor:rangeTicks(6.3,9.2,0.1),topSame:true,yMajor:M_yTicks,yMinor:rangeTicks(6.8,8.95,0.05)});
      textBox(ctx,a.left+D.boxDX,36,boxW,D.boxH,boxLines,9.4,a.left+D.boxDX+2.5,[44.5,54.8]);
      roundBox(ctx,218.2,28.8,172,15.4);
      ctx.save(); ctx.strokeStyle='#000'; ctx.lineWidth=1.7; ctx.beginPath(); ctx.moveTo(221.7,36.7); ctx.lineTo(240.5,36.7); ctx.stroke();
      ctx.fillStyle='#000'; ctx.font='10.2px "Liberation Serif"'; ctx.textBaseline='middle'; ctx.fillText('SDSS \u2212 Andrews & Martini 2013',246.5,37); ctx.restore();
      colorbar(ctx,D.cbX0,D.cbX0+90.5,221.5,227,RDYLBU_R,cbZTicks,cbZLabels,0,10,'6.8px "DejaVu Sans"','Redshift','8.5px "DejaVu Sans"',237.5,228.5);
      ctx.save(); ctx.fillStyle='#000'; ctx.textBaseline='alphabetic';
      const f1='15px "Liberation Serif"', f2='9px "DejaVu Sans"';
      const parts=[['log(M',f1,0],['\u22C6',f2,3],[') \u2212 0.66 log(SFR)',f1,0]];
      let w=0; parts.forEach(p=>{ctx.font=p[1];w+=ctx.measureText(p[0]).width;});
      let x=(a.left+a.right)/2-w/2; const by=279.5;
      parts.forEach(p=>{ctx.font=p[1];ctx.fillText(p[0],x,by+p[2]);x+=ctx.measureText(p[0]).width;});
      ctx.restore();
    }};
  const scales = {
    x: xScale(6.25,9.25,M_xTicks,1,32,3,{display:false}),
    y: yScale(6.75,9.0,M_yTicks,2,D.yW,3.4,{display:true,text:'12 + log(O/H)',color:'#000',font:{family:'Liberation Serif',size:15,lineHeight:1.2},padding:{top:D.titlePad,bottom:0}})
  };
  new Chart(document.getElementById(id),{type:'scatter',data:{datasets:datasets},
    options:Object.assign({},commonOpts,{layout:{padding:{left:0,right:D.padR,top:24.3,bottom:0}},scales:scales}),plugins:[plugin]});
}
fmrPanel('c2',{jX:mJadesX,jY:mJadesY,jXe:mJadesXe,jYe:mJadesYe,jZ:mJadesZ,ceersX:mCeersX,ceersY:mCeersY,ceersXe:mCeersXe,ceersYe:mCeersYe,ceersZ:mCeersZ,
  erosX:mErosX,erosY:mErosY,erosZ:mErosZ,gnX:mGnX,gnY:mGnY,gnZ:mGnZ,binX:mBinX,binY:mBinY,binXe:mBinXe,binYe:mBinYe,binZ:mBinZ,
  yW:46.7,padR:3.3,titlePad:4.2,boxDX:27.3,boxH:22.3,cbX0:270.7},['Sample : fiducial','SFR : fiducial'],69.5);
fmrPanel('c3',{jX:rJadesX,jY:rJadesY,jXe:rJadesXe,jYe:rJadesYe,jZ:rJadesZ,ceersX:rCeersX,ceersY:rCeersY,ceersXe:rCeersXe,ceersYe:rCeersYe,ceersZ:rCeersZ,
  erosX:rErosX,erosY:rErosY,erosZ:rErosZ,gnX:rGnX,gnY:rGnY,gnZ:rGnZ,binX:rBinX,binY:rBinY,binXe:rBinXe,binYe:rBinYe,binZ:rBinZ,
  yW:47.7,padR:3,titlePad:5.2,boxDX:5.6,boxH:24,cbX0:272.3},['Sample : fiducial','SFR : H\u03B1 (Kennicutt 2012)'],114);
</script>
</body></html>
